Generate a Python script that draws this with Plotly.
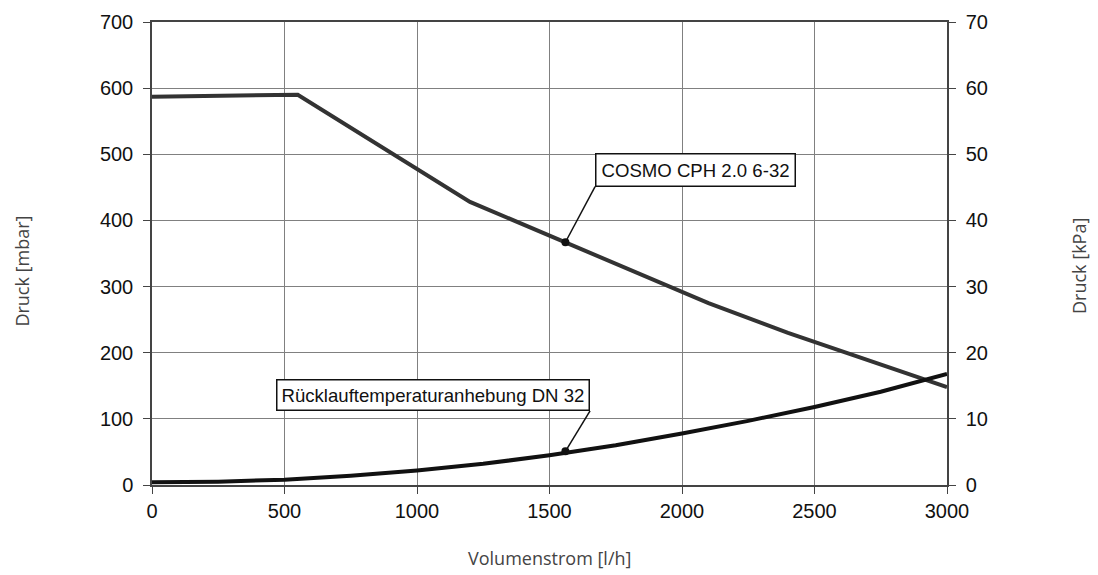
import plotly.graph_objects as go

# Data
flow_pump = [0, 550, 1200, 1560, 2100, 2400, 3000]
pressure_pump = [587, 590, 428, 367, 275, 230, 148]

flow_return = [0, 250, 500, 750, 1000, 1250, 1500, 1750, 2000, 2250, 2500, 2750, 3000]
pressure_return = [4, 5, 8, 14, 22, 32, 45, 60, 78, 97, 118, 141, 168]

x_ticks = [0, 500, 1000, 1500, 2000, 2500, 3000]
y_ticks_mbar = [0, 100, 200, 300, 400, 500, 600, 700]
y_ticks_kpa = [0, 10, 20, 30, 40, 50, 60, 70]

label_pump = "COSMO CPH 2.0 6-32"
label_return = "Rücklauftemperaturanhebung DN 32"
marker_flow = 1560
marker_pump = 367
marker_return = 51

fig = go.Figure()
fig.add_trace(go.Scatter(x=flow_pump, y=pressure_pump, mode="lines",
                         line=dict(color="#333333", width=4), showlegend=False))
fig.add_trace(go.Scatter(x=flow_return, y=pressure_return, mode="lines",
                         line=dict(color="#111111", width=4), showlegend=False))
fig.add_trace(go.Scatter(x=[marker_flow, marker_flow], y=[marker_pump, marker_return], mode="markers",
                         marker=dict(color="#111111", size=8), showlegend=False))
# dummy trace for right axis
fig.add_trace(go.Scatter(x=[0], y=[0], yaxis="y2", mode="markers",
                         marker=dict(opacity=0), showlegend=False, hoverinfo="skip"))

tick_font = dict(family="Liberation Sans, Arial", size=20, color="#111111")
title_font = dict(family="Open Sans", size=18, color="#444444")
label_font = dict(family="Liberation Sans, Arial", size=18.6, color="#111111")

# leader lines
fig.add_shape(type="line", x0=marker_flow, y0=marker_pump, x1=1672, y1=451,
              line=dict(color="#111111", width=1.5))
fig.add_shape(type="line", x0=marker_flow, y0=marker_return, x1=1653, y1=112,
              line=dict(color="#111111", width=1.5))

fig.add_annotation(x=1672, y=451, text=label_pump, showarrow=False, xanchor="left", yanchor="bottom",
                   font=label_font, bordercolor="#111111", borderwidth=1.5, borderpad=5, bgcolor="white")
fig.add_annotation(x=1653, y=112, text=label_return, showarrow=False, xanchor="right", yanchor="bottom",
                   font=label_font, bordercolor="#111111", borderwidth=1.5, borderpad=4, bgcolor="white")

fig.add_annotation(x=0.5, y=-0.158, xref="paper", yref="paper", text="Volumenstrom [l/h]",
                   showarrow=False, font=title_font, xanchor="center", yanchor="middle")
fig.add_annotation(x=-0.1805, y=0.462, xref="paper", yref="paper", text="Druck [mbar]",
                   showarrow=False, font=title_font, textangle=-90, xanchor="left", yanchor="middle")
fig.add_annotation(x=1.166, y=0.473, xref="paper", yref="paper", text="Druck [kPa]",
                   showarrow=False, font=title_font, textangle=-90, xanchor="center", yanchor="middle")

axis_common = dict(showline=True, linecolor="#444444", linewidth=1.5, automargin=False,
                   ticks="outside", ticklen=7, tickcolor="#444444", tickfont=tick_font, zeroline=False)

fig.update_layout(
    width=1090, height=567,
    margin=dict(l=144, r=151, t=14, b=90),
    plot_bgcolor="white", paper_bgcolor="white",
    xaxis=dict(range=[0, 3000], tickvals=x_ticks, showgrid=True, gridcolor="#808080", gridwidth=1,
               mirror=True, **axis_common),
    yaxis=dict(range=[0, 700], tickvals=y_ticks_mbar, showgrid=True, gridcolor="#808080", gridwidth=1,
               ticklabelstandoff=6, **axis_common),
    yaxis2=dict(range=[0, 70], tickvals=y_ticks_kpa, overlaying="y", side="right", showgrid=False,
                ticklabelstandoff=6, **axis_common),
)

fig.write_html("out.html")
